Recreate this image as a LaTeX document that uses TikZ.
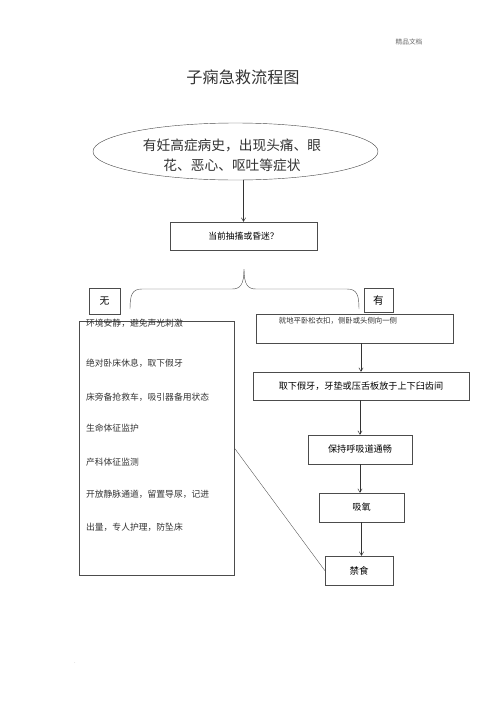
\documentclass[tikz,border=0pt]{standalone}
\usepackage{fontspec}
\newfontfamily\cjk{Noto Sans CJK SC}
\usetikzlibrary{arrows.meta,shapes.geometric}
\tikzset{
  box/.style={draw=black!70, line width=0.6pt, inner sep=0pt},
  txt/.style={text=black!80, inner sep=0pt},
  arr/.style={draw=black!80, line width=0.7pt, -{Straight Barb[length=5pt,width=6pt]}},
}
\begin{document}
\begin{tikzpicture}[x=0.05cm,y=-0.05cm]
\useasboundingbox (0,0) rectangle (500,708);
% header
\node[txt, text=black!60, font=\cjk\fontsize{9.5}{11}\selectfont] (hdr) at (409,42) {精品文档};
\node[txt, font=\cjk\fontsize{23}{26}\selectfont] (title) at (243,77) {子痫急救流程图};
% ellipse
\node[ellipse, draw=black!70, line width=0.6pt, minimum width=14.25cm, minimum height=2.85cm] (e) at (235.5,151.5) {};
\node[txt, font=\cjk\fontsize{19.5}{22}\selectfont] (e1) at (232,145) {有妊高症病史，出现头痛、眼};
\node[txt, font=\cjk\fontsize{19.5}{22}\selectfont] (e2) at (232,165) {花、恶心、呕吐等症状};
% question
\node[box, minimum width=7.35cm, minimum height=1.4cm, font=\cjk\fontsize{12.5}{14}\selectfont] (q) at (243.5,236) {当前抽搐或昏迷？};
\draw[arr] (q.north |- e.south) -- (q.north);
% brace
\coordinate (bl) at (130,309);
\coordinate (br) at (359,309);
\coordinate (bt) at (244,269);
\draw[black!70, line width=0.6pt] (bl) .. controls (130,295) and (132,289) .. (142,289)
  -- (232,289) .. controls (240,289) and (244,285) .. (bt);
\draw[black!70, line width=0.6pt] (br) .. controls (359,295) and (357,289) .. (347,289)
  -- (256,289) .. controls (248,289) and (244,285) .. (bt);
% labels
\node[box, minimum width=1.55cm, minimum height=1.3cm, font=\cjk\fontsize{14}{16}\selectfont] (wu) at (104.5,301) {无};
\node[box, line width=0.8pt, minimum width=1.45cm, minimum height=1.2cm, font=\cjk\fontsize{15}{17}\selectfont] (you) at (378.5,300) {有};
% left box
\node[draw=black!70, line width=1.1pt, minimum width=7.75cm, minimum height=12.7cm] (L) at (156.5,448) {};
\node[txt, anchor=west, font=\cjk\fontsize{12.5}{14}\selectfont] (l1) at (86,323) {环境安静，避免声光刺激};
\node[txt, anchor=west, font=\cjk\fontsize{12.5}{14}\selectfont] (l2) at (86,363) {绝对卧床休息，取下假牙};
\node[txt, anchor=west, font=\cjk\fontsize{12.5}{14}\selectfont] (l3) at (86,397) {床旁备抢救车，吸引器备用状态};
\node[txt, anchor=west, font=\cjk\fontsize{12.5}{14}\selectfont] (l4) at (86,428) {生命体征监护};
\node[txt, anchor=west, font=\cjk\fontsize{12.5}{14}\selectfont] (l5) at (86,462) {产科体征监测};
\node[txt, anchor=west, font=\cjk\fontsize{12.5}{14}\selectfont] (l6) at (86,494) {开放静脉通道，留置导尿，记进};
\node[txt, anchor=west, font=\cjk\fontsize{12.5}{14}\selectfont] (l7) at (86,527) {出量，专人护理，防坠床};
% right chain
\node[box, minimum width=9.85cm, minimum height=1.45cm] (r1) at (354.5,328.5) {};
\node[txt, font=\cjk\fontsize{10.5}{12}\selectfont] (r1t) at (338,321) {就地平卧松衣扣，侧卧或头侧向一侧};
\node[box, minimum width=10.8cm, minimum height=1.4cm, font=\cjk\fontsize{13}{15}\selectfont] (r2) at (361,386) {取下假牙，牙垫或压舌板放于上下臼齿间};
\node[box, minimum width=5.2cm, minimum height=1.45cm, font=\cjk\fontsize{13}{15}\selectfont] (r3) at (360,449.5) {保持呼吸道通畅};
\node[box, minimum width=4.25cm, minimum height=1.45cm, font=\cjk\fontsize{13}{15}\selectfont] (r4) at (361.5,507.5) {吸氧};
\node[box, minimum width=3.4cm, minimum height=1.45cm, font=\cjk\fontsize{13.5}{15}\selectfont] (r5) at (359,570.5) {禁食};
\draw[arr] (r2.north |- r1.south) -- (r2.north);
\draw[arr] (r3.north |- r2.south) -- (r3.north);
\draw[arr] (r3.south) -- (r3.south |- r4.north);
\draw[arr] (r4.south) -- (r4.south |- r5.north);
\draw[black!70, line width=0.5pt] (L.east) -- (r5.west);
% footer dot
\node[txt, text=black!50, font=\fontsize{8}{9}\selectfont] (dot) at (75,663) {.};
\end{tikzpicture}
\end{document}
